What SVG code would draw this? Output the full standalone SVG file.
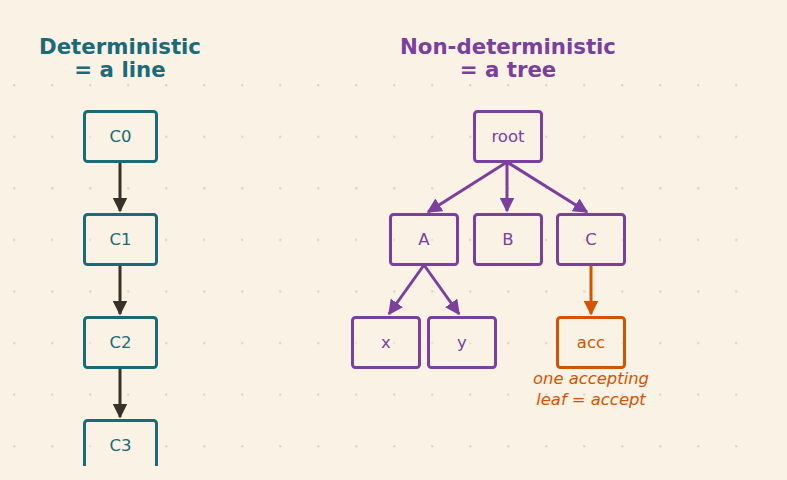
<svg xmlns="http://www.w3.org/2000/svg" width="787" height="480" viewBox="0 0 787 480">
<style>
.title{font-family:"DejaVu Sans",sans-serif;font-size:21.3px;font-weight:bold;text-anchor:middle}
.lbl{font-family:"DejaVu Sans",sans-serif;font-size:16.5px;text-anchor:middle;dominant-baseline:central}
.det rect{fill:#faf3e5;fill-opacity:0.4;stroke:#1b6a78;stroke-width:3}
.det text{fill:#1b6a78}
.nd rect{fill:#faf3e5;fill-opacity:0.4;stroke:#7b3f9e;stroke-width:3}
.nd text{fill:#7b3f9e}
.acc rect{fill:#faf3e5;fill-opacity:0.4;stroke:#d35400;stroke-width:3}
.acc text{fill:#d35400}
.note{font-family:"DejaVu Sans",sans-serif;font-size:16.4px;font-style:italic;fill:#d35400;text-anchor:middle}
</style>
<defs>
<pattern id="dots" x="13" y="84" width="38" height="51.57" patternUnits="userSpaceOnUse">
<circle cx="1.2" cy="1.2" r="1.2" fill="#ddd3c0"/>
</pattern>
<marker id="ad" viewBox="0 0 10 10" refX="9" refY="5" markerWidth="5" markerHeight="5" orient="auto"><path d="M0,0 L10,5 L0,10 z" fill="#3a3028"/></marker>
<marker id="ap" viewBox="0 0 10 10" refX="9" refY="5" markerWidth="5" markerHeight="5" orient="auto"><path d="M0,0 L10,5 L0,10 z" fill="#7b3f9e"/></marker>
<marker id="ao" viewBox="0 0 10 10" refX="9" refY="5" markerWidth="5" markerHeight="5" orient="auto"><path d="M0,0 L10,5 L0,10 z" fill="#d35400"/></marker>
<clipPath id="clip"><rect x="0" y="0" width="787" height="466"/></clipPath>
</defs>
<rect width="787" height="480" fill="#faf3e5"/>
<rect x="0" y="80" width="745" height="372" fill="url(#dots)"/>
<text class="title" x="120" y="54" fill="#1b6a78">Deterministic</text>
<text class="title" x="120" y="77" fill="#1b6a78">= a line</text>
<text class="title" x="508" y="54" fill="#7b3f9e">Non-deterministic</text>
<text class="title" x="508" y="77" fill="#7b3f9e">= a tree</text>
<g id="connectors" stroke-width="3" fill="none">
<line x1="120" y1="162" x2="120" y2="211" stroke="#3a3028" marker-end="url(#ad)"/>
<line x1="120" y1="265" x2="120" y2="314" stroke="#3a3028" marker-end="url(#ad)"/>
<line x1="120" y1="368" x2="120" y2="417" stroke="#3a3028" marker-end="url(#ad)"/>
<line x1="507" y1="162" x2="428" y2="212" stroke="#7b3f9e" marker-end="url(#ap)"/>
<line x1="507" y1="162" x2="507" y2="211" stroke="#7b3f9e" marker-end="url(#ap)"/>
<line x1="507" y1="162" x2="587" y2="212" stroke="#7b3f9e" marker-end="url(#ap)"/>
<line x1="424" y1="265" x2="389" y2="314" stroke="#7b3f9e" marker-end="url(#ap)"/>
<line x1="424" y1="265" x2="459" y2="314" stroke="#7b3f9e" marker-end="url(#ap)"/>
<line x1="591" y1="265" x2="591" y2="314" stroke="#d35400" marker-end="url(#ao)"/>
</g>
<g id="C0" class="det"><rect x="84.5" y="111.5" width="72" height="50" rx="3"/><text class="lbl" x="120.5" y="136.5">C0</text></g>
<g id="C1" class="det"><rect x="84.5" y="214.5" width="72" height="50" rx="3"/><text class="lbl" x="120.5" y="239.5">C1</text></g>
<g id="C2" class="det"><rect x="84.5" y="317.5" width="72" height="50" rx="3"/><text class="lbl" x="120.5" y="342.5">C2</text></g>
<g id="C3" class="det" clip-path="url(#clip)"><rect x="84.5" y="420.5" width="72" height="50" rx="3"/><text class="lbl" x="120.5" y="445.5">C3</text></g>
<g id="root" class="nd"><rect x="474.5" y="111.5" width="67" height="50" rx="3"/><text class="lbl" x="508" y="136.5">root</text></g>
<g id="A" class="nd"><rect x="390.5" y="214.5" width="67" height="50" rx="3"/><text class="lbl" x="424" y="239.5">A</text></g>
<g id="B" class="nd"><rect x="474.5" y="214.5" width="67" height="50" rx="3"/><text class="lbl" x="508" y="239.5">B</text></g>
<g id="C" class="nd"><rect x="557.5" y="214.5" width="67" height="50" rx="3"/><text class="lbl" x="591" y="239.5">C</text></g>
<g id="x" class="nd"><rect x="352.5" y="317.5" width="67" height="50" rx="3"/><text class="lbl" x="386" y="342.5">x</text></g>
<g id="y" class="nd"><rect x="428.5" y="317.5" width="67" height="50" rx="3"/><text class="lbl" x="462" y="342.5">y</text></g>
<g id="acc" class="acc"><rect x="557.5" y="317.5" width="67" height="50" rx="3"/><text class="lbl" x="591" y="342.5">acc</text></g>
<text class="note" x="591" y="384">one accepting</text>
<text class="note" x="591" y="405">leaf = accept</text>
</svg>
